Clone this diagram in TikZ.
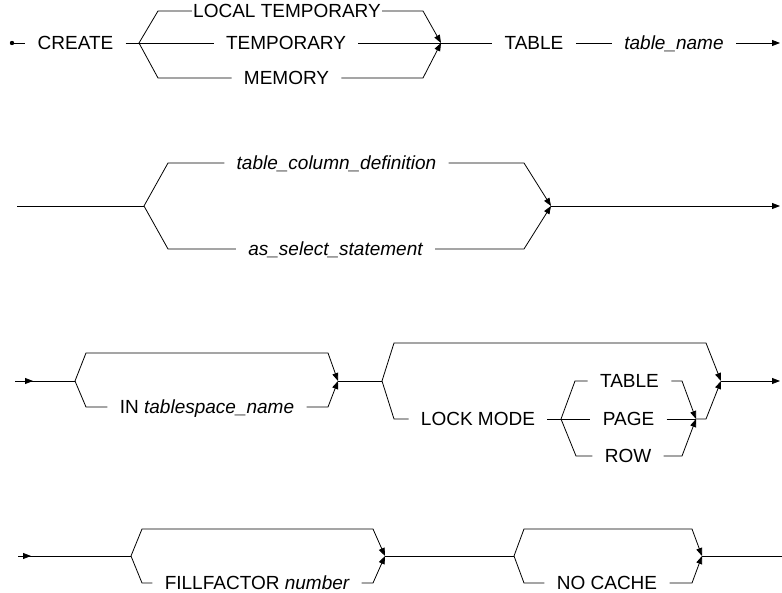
\documentclass[tikz,border=0pt]{standalone}
\usepackage{fontspec}
\setmainfont{Liberation Sans}
\usetikzlibrary{arrows.meta}

\begin{document}
\begin{tikzpicture}[
    x=1pt, y=-1pt,
    line width=0.8pt,
    word/.style={
        inner xsep=12pt,
        inner ysep=0pt,
        text height=13.5pt,
        text depth=0pt,
        font=\fontsize{19}{22}\selectfont
    },
    tip/.style={-{Triangle[length=8pt,width=6pt]}}
]
\useasboundingbox (0,0) rectangle (782,593);

% Row 1: CREATE ... TABLE table_name
\coordinate (s1) at (12,43);
\coordinate (b1) at (139,43);
\coordinate (m1) at (441,43);
\coordinate (e1) at (780,43);
\fill (s1) circle (2.2);
\node[word] (create) at (75.5,43) {CREATE};
\node[word, inner xsep=1pt] (ltemp) at (287,11) {LOCAL TEMPORARY};
\node[word] (temp) at (286,43) {TEMPORARY};
\node[word] (mem) at (286.5,78) {MEMORY};
\node[word] (table) at (534,43) {TABLE};
\node[word] (tname) at (674,43) {\itshape table\_name};
\draw (s1) -- (create.west);
\draw (create.east) -- (b1);
\draw (b1) -- ++(19,-32) -- (ltemp.west);
\draw (b1) -- (temp.west);
\draw (b1) -- ++(19,35) -- (mem.west);
\draw[tip] (ltemp.east) -- (423,11) -- (m1);
\draw (temp.east) -- (m1);
\draw[tip] (mem.east) -- (423,78) -- (m1);
\draw (m1) -- (table.west);
\draw (table.east) -- (tname.west);
\draw[tip] (tname.east) -- (e1);

% Row 2: column definitions or select
\coordinate (s2) at (17,206);
\coordinate (b2) at (144,206);
\coordinate (m2) at (551,206);
\coordinate (e2) at (780,206);
\node[word] (tcd) at (336.5,163) {\itshape table\_column\_definition};
\node[word] (ass) at (335.5,249) {\itshape as\_select\_statement};
\draw (s2) -- (b2);
\draw (b2) -- ++(24,-43) -- (tcd.west);
\draw (b2) -- ++(24,43) -- (ass.west);
\draw[tip] (tcd.east) -- (524,163) -- (m2);
\draw[tip] (ass.east) -- (524,249) -- (m2);
\draw[tip] (m2) -- (e2);

% Row 3: IN tablespace, LOCK MODE
\coordinate (s3) at (15,381);
\coordinate (b3) at (75,381);
\coordinate (m3) at (338,381);
\coordinate (b4) at (382,381);
\coordinate (m4) at (721,381);
\coordinate (b5) at (561,419);
\coordinate (m5) at (696,419);
\coordinate (e3) at (780,381);
\node[word] (ints) at (207,407) {IN \itshape tablespace\_name};
\node[word] (lock) at (478,419) {LOCK MODE};
\node[word] (ltab) at (629.5,381) {TABLE};
\node[word] (page) at (628.5,419) {PAGE};
\node[word] (row) at (628,456) {ROW};
\draw[tip] (s3) -- ++(18,0);
\draw (s3) -- (b3);
\draw[tip] (b3) -- ++(11,-28) -- (328,353) -- (m3);
\draw (b3) -- ++(11,26) -- (ints.west);
\draw[tip] (ints.east) -- (328,407) -- (m3);
\draw (m3) -- (b4);
\draw[tip] (b4) -- ++(12,-38) -- (706,343) -- (m4);
\draw (b4) -- ++(12,38) -- (lock.west);
\draw (lock.east) -- (b5);
\draw (b5) -- ++(14,-38) -- (ltab.west);
\draw (b5) -- (page.west);
\draw (b5) -- ++(15,37) -- (row.west);
\draw[tip] (ltab.east) -- (682,381) -- (m5);
\draw (page.east) -- (m5);
\draw[tip] (row.east) -- (682,456) -- (m5);
\draw[tip] (m5) -- (706,419) -- (m4);
\draw[tip] (m4) -- (e3);

% Row 4: FILLFACTOR, NO CACHE
\coordinate (s4) at (18,556);
\coordinate (b6) at (131,556);
\coordinate (m6) at (385,556);
\coordinate (b7) at (514,556);
\coordinate (m7) at (702,556);
\coordinate (e4) at (782,556);
\node[word] (ffn) at (257,583) {FILLFACTOR \itshape number};
\node[word] (noc) at (607,583) {NO CACHE};
\draw[tip] (s4) -- ++(13,0);
\draw (s4) -- (b6);
\draw[tip] (b6) -- ++(11,-27) -- (373,529) -- (m6);
\draw (b6) -- ++(11,27) -- (ffn.west);
\draw[tip] (ffn.east) -- (373,583) -- (m6);
\draw (m6) -- (b7);
\draw[tip] (b7) -- ++(10,-27) -- (692,529) -- (m7);
\draw (b7) -- ++(10,27) -- (noc.west);
\draw[tip] (noc.east) -- (692,583) -- (m7);
\draw (m7) -- (e4);

\end{tikzpicture}
\end{document}
